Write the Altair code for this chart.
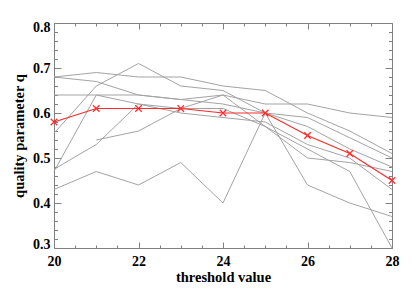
import altair as alt
import pandas as pd

thresholds = [20, 21, 22, 23, 24, 25, 26, 27, 28]

run_a = [0.68, 0.69, 0.68, 0.68, 0.66, 0.65, 0.60, 0.56, 0.51]
run_b = [0.68, 0.67, 0.64, 0.63, 0.64, 0.62, 0.62, 0.60, 0.59]
run_c = [0.64, 0.64, 0.64, 0.63, 0.62, 0.60, 0.59, 0.545, 0.50]
run_d = [0.555, 0.66, 0.71, 0.66, 0.65, 0.60, 0.57, 0.52, 0.48]
run_e = [0.47, 0.64, 0.62, 0.60, 0.59, 0.58, 0.53, 0.50, 0.43]
run_f = [0.475, 0.53, 0.62, 0.61, 0.64, 0.57, 0.52, 0.47, 0.30]
run_g = [None, 0.54, 0.56, 0.61, 0.61, 0.57, 0.50, 0.49, 0.47]
run_h = [0.43, 0.47, 0.44, 0.49, 0.40, 0.60, 0.44, 0.40, 0.37]

mean_q = [0.58, 0.61, 0.61, 0.61, 0.60, 0.60, 0.55, 0.51, 0.45]

x_label_values = [20, 22, 24, 26, 28]
x_tick_values = [20, 20.5, 21, 21.5, 22, 22.5, 23, 23.5, 24, 24.5, 25, 25.5,
                 26, 26.5, 27, 27.5, 28]
y_label_values = [0.3, 0.4, 0.5, 0.6, 0.7, 0.8]
y_tick_values = [round(0.3 + 0.02 * i, 2) for i in range(26)]

runs = {"a": run_a, "b": run_b, "c": run_c, "d": run_d,
        "e": run_e, "f": run_f, "g": run_g, "h": run_h}
rows = []
for name, vals in runs.items():
    for t, v in zip(thresholds, vals):
        if v is not None:
            rows.append({"run": name, "threshold": t, "q": v})
grey_df = pd.DataFrame(rows)
mean_df = pd.DataFrame({"threshold": thresholds, "q": mean_q})

W, H = 338, 225
FONT = "Liberation Serif"
FRAME = "#808080"
RED = "#ff2a2a"

xs = alt.Scale(domain=[20, 28], nice=False, zero=False)
ys = alt.Scale(domain=[0.3, 0.8], nice=False, zero=False)

x_tick_size = {"condition": {"test": "datum.value % 2 === 0", "value": 6}, "value": 3}
y_tick_size = {"condition": {"test": "abs(datum.value * 10 - round(datum.value * 10)) < 0.001",
                             "value": 7}, "value": 3.5}

# layer 1: grey runs, labelled axes (bottom / left)
grey = alt.Chart(grey_df).mark_line(color="#a3a3a3", strokeWidth=1).encode(
    x=alt.X("threshold:Q", scale=xs, axis=alt.Axis(
        orient="bottom", values=x_label_values, format="d", ticks=False, grid=False,
        domain=True, domainColor=FRAME, domainWidth=1,
        labelFont=FONT, labelFontWeight="bold", labelFontSize=14, labelColor="black",
        labelPadding=6, labelFlush=False,
        title="threshold value", titleFont=FONT, titleFontWeight="bold",
        titleFontSize=14.5, titleColor="black", titlePadding=2)),
    y=alt.Y("q:Q", scale=ys, axis=alt.Axis(
        orient="left", values=y_label_values, format=".1f", ticks=False, grid=False,
        domain=True, domainColor=FRAME, domainWidth=1,
        labelFont=FONT, labelFontWeight="bold", labelFontSize=14, labelColor="black",
        labelPadding=4, labelFlush=True, labelFlushOffset=3,
        title="quality parameter q", titleFont=FONT, titleFontWeight="bold",
        titleFontSize=14.5, titleColor="black", titlePadding=6)),
    detail="run:N",
)

# layer 2: mean line, inward ticks at bottom and left edges
mean_line = alt.Chart(mean_df).mark_line(color=RED, strokeWidth=1.2).encode(
    x=alt.X("threshold:Q", scale=xs, axis=alt.Axis(
        orient="top", offset=-H, values=x_tick_values, labels=False, domain=False,
        grid=False, tickColor=FRAME, tickSize=x_tick_size, title=None)),
    y=alt.Y("q:Q", scale=ys, axis=alt.Axis(
        orient="right", offset=-W, values=y_tick_values, labels=False, domain=False,
        grid=False, tickColor=FRAME, tickSize=y_tick_size, title=None)),
)

# layer 3: mean markers, top and right frame with inward ticks
mean_pts = alt.Chart(mean_df).mark_point(
    shape="M-1,-1L1,1M1,-1L-1,1", filled=False, color=RED, size=42, strokeWidth=1.2,
    opacity=1).encode(
    x=alt.X("threshold:Q", scale=xs, axis=alt.Axis(
        orient="bottom", offset=-H, values=x_tick_values, labels=False, domain=True,
        domainColor=FRAME, grid=False, tickColor=FRAME, tickSize=x_tick_size, title=None)),
    y=alt.Y("q:Q", scale=ys, axis=alt.Axis(
        orient="left", offset=-W, values=y_tick_values, labels=False, domain=True,
        domainColor=FRAME, grid=False, tickColor=FRAME, tickSize=y_tick_size, title=None)),
)

chart = alt.layer(grey, mean_line, mean_pts).resolve_axis(
    x="independent", y="independent"
).properties(
    width=W, height=H,
    autosize=alt.AutoSizeParams(type="none"),
    padding={"left": 46, "top": 15, "right": 12, "bottom": 36},
    background="white",
).configure_view(stroke=None)

chart.save("out.html", embed_options={"renderer": "svg", "actions": False})
